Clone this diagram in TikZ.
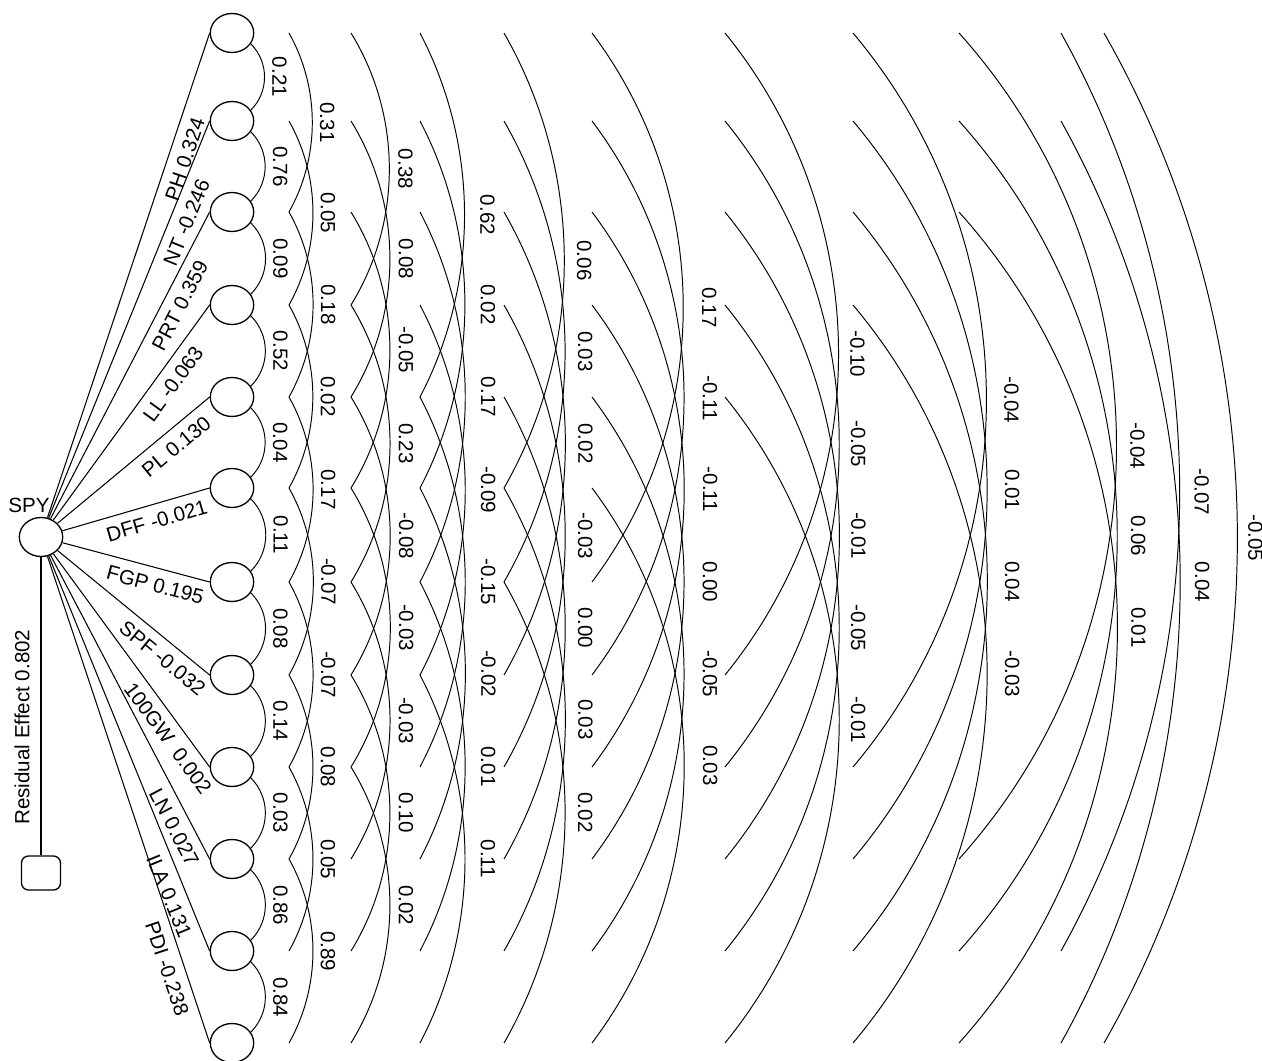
\documentclass[tikz,border=0pt]{standalone}
\usepackage{fontspec}
\setmainfont{Liberation Sans}
\usetikzlibrary{shapes.geometric}
\begin{document}
\begin{tikzpicture}[x=0.02cm,y=-0.02cm,
  lat/.style={ellipse,draw,line width=0.75pt,minimum width=0.868cm,minimum height=0.78cm,inner sep=0pt},
  resbox/.style={draw,line width=0.75pt,rounded corners=4pt,minimum width=0.78cm,minimum height=0.68cm,inner sep=0pt},
  conn/.style={line width=0.6pt},
  cov/.style={line width=0.55pt},
  val/.style={font=\fontsize{11.7}{14}\selectfont,inner sep=0pt},
]
\useasboundingbox (0,0) rectangle (1262,1061);
% observed variables and arc end points
\foreach \k/\y in {1/33,2/121,3/212,4/305,5/397,6/488,7/582,8/675,9/767,10/859,11/951,12/1043}{
  \node[lat] (c\k) at (232,\y) {};
  \foreach \d/\xo in {2/289,3/351,4/420,5/504,6/592,7/725,8/853,9/959,10/1061,11/1104}
    \coordinate (e\d-\k) at (\xo,\y);
}
% SPY and residual
\node[lat] (spy) at (41,537) {};
\node[val] (spylab) at (29,505) {SPY};
\node[resbox] (res) at (41,873) {};
\draw[conn] (res) -- node[pos=0.43,above=0.22cm,sloped,val] (reslab) {Residual Effect 0.802} (spy);
% path coefficients
\foreach \k/\p/\t in {1/0.75/{PH 0.324},2/0.76/{NT -0.246},3/0.72/{PRT 0.359},4/0.68/{LL -0.063},
  5/0.71/{PL 0.130},6/0.61/{DFF -0.021},7/0.66/{FGP 0.195},8/0.76/{SPF -0.032},
  9/0.82/{100GW~~0.002},10/0.87/{LN 0.027},11/0.845/{ILA 0.131},12/0.836/{PDI -0.238}}
  \draw[conn] (spy) -- node[pos=\p,below=0.18cm,sloped,val] (pl\k) {\t} (c\k.west);
% adjacent correlations
\foreach \v [count=\k] in {0.21,0.76,0.09,0.52,0.04,0.11,0.08,0.14,0.03,0.86,0.84}{
  \pgfmathtruncatemacro\kk{\k+1}
  \draw[cov] (c\k.-30) to[bend left=45] node[midway,xshift=0.3cm,val,rotate=-90] (v1-\k) {\v} (c\kk.30);
}
% longer-range correlations
\foreach \d/\th/\g/\vals in {
  2/29.3/15/{0.31,0.05,0.18,0.02,0.17,-0.07,-0.07,0.08,0.05,0.89},
  3/31.6/16/{0.38,0.08,-0.05,0.23,-0.08,-0.03,-0.03,0.10,0.02},
  4/27.6/23/{0.62,0.02,0.17,-0.09,-0.15,-0.02,0.01,0.11},
  5/29.8/20/{0.06,0.03,0.02,-0.03,0.00,0.03,0.02},
  6/36.9/26/{0.17,-0.11,-0.11,0.00,-0.05,0.03},
  7/39.1/19/{-0.10,-0.05,-0.01,-0.05,-0.01},
  8/40.1/25/{-0.04,0.01,0.04,-0.03},
  9/41.9/21/{-0.04,0.06,0.01},
  10/29.1/22/{-0.07,0.04},
  11/29.7/18/{-0.05}}{
  \pgfmathsetmacro\lam{1/(1.1745*cos(\th/2)^2)}
  \foreach \v [count=\k] in \vals {
    \pgfmathtruncatemacro\kk{\k+\d}
    \draw[cov] (e\d-\k) to[bend left=\th,looseness=\lam] node[midway,xshift=\g*0.02cm,val,rotate=-90] (v\d-\k) {\v} (e\d-\kk);
  }
}
\end{tikzpicture}
\end{document}
